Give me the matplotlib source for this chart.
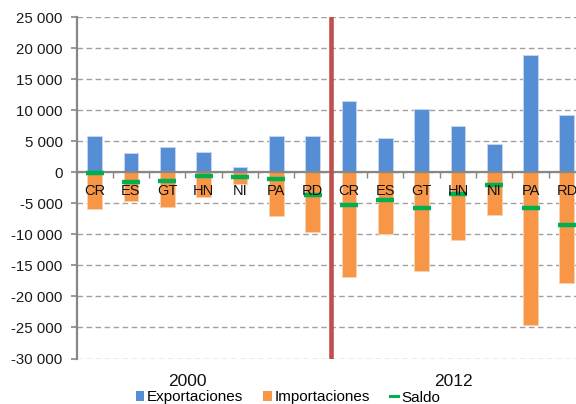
import matplotlib
matplotlib.use("Agg")
import matplotlib.pyplot as plt
from matplotlib.ticker import FuncFormatter, FixedLocator
from matplotlib.patches import Patch
from matplotlib.lines import Line2D
import numpy as np

plt.rcParams['font.family'] = ['Liberation Sans', 'DejaVu Sans']

countries = ["CR", "ES", "GT", "HN", "NI", "PA", "RD"]
years = ["2000", "2012"]

exports_2000 = [5800, 3050, 4100, 3300, 900, 5850, 5850]
imports_2000 = [-5900, -4550, -5600, -4000, -1850, -6950, -9550]
balance_2000 = [-150, -1600, -1450, -650, -800, -1100, -3700]

exports_2012 = [11550, 5500, 10250, 7400, 4600, 18900, 9200]
imports_2012 = [-16900, -9900, -15850, -10950, -6800, -24550, -17850]
balance_2012 = [-5250, -4400, -5700, -3450, -2100, -5700, -8550]

exports = exports_2000 + exports_2012
imports = imports_2000 + imports_2012
balance = balance_2000 + balance_2012
labels = countries + countries

BLUE = "#558ED5"
ORANGE = "#F79646"
GREEN = "#00B050"
RED = "#C0504D"
GRAY = "#878787"

fig = plt.figure(figsize=(5.76, 4.04), dpi=100)
ax = fig.add_axes([76.5 / 576, (404 - 358.5) / 404, 508.6 / 576, 341.2 / 404])

x = np.arange(len(labels))
w = 0.41

ax.set_ylim(-30000, 25000)
ax.set_xlim(-0.5, len(labels) - 0.5)

ax.yaxis.set_major_locator(FixedLocator(np.arange(-30000, 25001, 5000)))
ax.yaxis.set_major_formatter(FuncFormatter(lambda v, p: f"{int(v):,}".replace(",", " ")))
ax.grid(axis='y', color="#A0A0A0", linestyle=(0, (4, 2.5)), linewidth=1.0, zorder=0)
ax.set_axisbelow(True)

ax.bar(x, imports, width=w, color=ORANGE, edgecolor="#FAD2B0", linewidth=0.7, zorder=2)
ax.bar(x, exports, width=w, color=BLUE, edgecolor="#C5D7F0", linewidth=0.7, zorder=2)
ax.plot(x, balance, linestyle="none", marker="_", markersize=12.5, markeredgewidth=3.2,
        color=GREEN, zorder=4)

# year separator
ax.axvline(len(countries) - 0.5, color=RED, linewidth=3.3, zorder=5)

for spine in ["top", "right"]:
    ax.spines[spine].set_visible(False)
ax.spines["left"].set_color(GRAY)
ax.spines["left"].set_linewidth(1.6)
ax.spines["bottom"].set_position(("data", 0))
ax.spines["bottom"].set_color(GRAY)
ax.spines["bottom"].set_linewidth(1.6)
ax.spines["bottom"].set_zorder(3)

ax.set_xticks(np.arange(0.5, len(labels) - 0.5, 1.0))
ax.set_xticklabels([])
ax.tick_params(axis='x', direction='out', length=4, width=1, color=GRAY)
ax.tick_params(axis='y', direction='out', length=4, width=1.2, color=GRAY,
               labelsize=10.8, labelcolor="#1a1a1a", pad=6)

for xi, lab in zip(x, labels):
    ax.annotate(lab, (xi, 0), xytext=(0, -8.5), textcoords="offset points",
                ha="center", va="top", fontsize=10.5, color="#111111", zorder=6)

for xpix, yr in zip([187.5, 453], years):
    fig.text(xpix / 576, (404 - 381.5) / 404, yr, ha="center", va="center",
             fontsize=12.5, color="#111111")

handles = [Patch(facecolor=BLUE, edgecolor="none"),
           Patch(facecolor=ORANGE, edgecolor="none"),
           Line2D([], [], color=GREEN, linewidth=2.2)]
fig.legend(handles, ["Exportaciones", "Importaciones", "Saldo"], loc="center",
           bbox_to_anchor=(288 / 576, (404 - 397.5) / 404), ncol=3, frameon=False,
           fontsize=11, handlelength=0.55, handleheight=0.55, handletextpad=0.2,
           columnspacing=1.3, borderaxespad=0, borderpad=0)

fig.savefig("out.png", dpi=100)
